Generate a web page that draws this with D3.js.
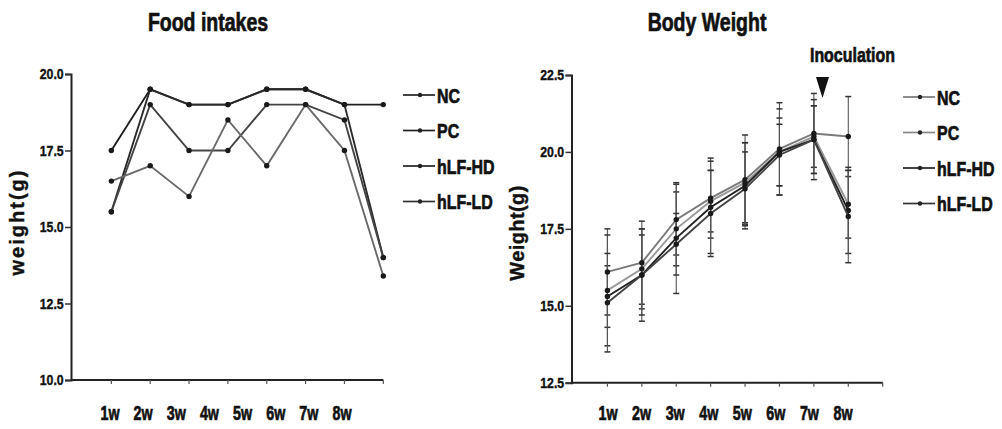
<!DOCTYPE html>
<html>
<head>
<meta charset="utf-8">
<script src="https://cdn.jsdelivr.net/npm/d3@7"></script>
<style>
  html, body { margin: 0; padding: 0; background: #fff; }
  svg { display: block; }
  text { font-family: "Liberation Sans", Arial, sans-serif; font-weight: bold; fill: #111; }
  .heavy { stroke: #111; stroke-width: 0.7px; }
</style>
</head>
<body>
<svg id="chart" width="1002" height="429"></svg>
<script>
// ---- data ----
const weeks = ["1w", "2w", "3w", "4w", "5w", "6w", "7w", "8w"];
const groups = ["NC", "PC", "hLF-HD", "hLF-LD"];

// Food intakes (g)
const foodNC = [17.5, 19.5, 19.0, 19.0, 19.5, 19.5, 19.0, 19.0];
const foodPC = [15.5, 19.5, 19.0, 19.0, 19.5, 19.5, 19.0, 14.0];
const foodHD = [15.5, 19.0, 17.5, 17.5, 19.0, 19.0, 18.5, 14.0];
const foodLD = [16.5, 17.0, 16.0, 18.5, 17.0, 19.0, 17.5, 13.4];

// Body weight (g), mean and SD
const bwNC = [16.1, 16.4, 17.8, 18.5, 19.1, 20.1, 20.6, 20.5];
const bwPC = [15.5, 16.2, 17.5, 18.4, 19.0, 20.0, 20.5, 18.3];
const bwHD = [15.3, 16.0, 17.2, 18.2, 18.9, 20.0, 20.4, 18.1];
const bwLD = [15.1, 16.0, 17.0, 18.0, 18.8, 19.9, 20.4, 17.9];
const sdNC = [1.4, 1.35, 1.15, 1.3, 1.45, 1.5, 1.3, 1.3];
const sdPC = [1.8, 1.3, 1.2, 1.0, 1.3, 1.4, 1.0, 1.1];
const sdHD = [1.0, 1.5, 1.8, 1.5, 1.4, 1.1, 1.3, 1.4];
const sdLD = [1.6, 1.3, 1.0, 1.4, 1.2, 1.0, 1.1, 1.5];

const foodTicks = [10.0, 12.5, 15.0, 17.5, 20.0];
const bwTicks = [12.5, 15.0, 17.5, 20.0, 22.5];
const inoculationWeek = 7.25;

const foodColors = ["#1e1e1e", "#2a2a2a", "#444", "#6a6a6a"];
const bwColors = ["#7a7a7a", "#999", "#222", "#444"];

const svg = d3.select("#chart");

// condensed heavy label anchored at (x, y)
function label(parent, x, y, str, size, anchor, squeeze) {
  return parent.append("g")
    .attr("transform", `translate(${x},${y}) scale(${squeeze},1)`)
    .append("text")
    .attr("class", "heavy")
    .attr("text-anchor", anchor || "start")
    .attr("font-size", size)
    .text(str);
}

function drawPanel(opt) {
  const g = svg.append("g");
  const x = d3.scaleLinear().domain([0, opt.xMax]).range(opt.xRange);
  const y = d3.scaleLinear().domain(opt.yDomain).range(opt.yRange);
  const labelX = d3.scalePoint().domain(weeks).range(opt.labelRange);
  const axisX = x(0) - 1.5;

  // y axis
  g.append("g")
    .attr("transform", `translate(${axisX},0)`)
    .call(d3.axisLeft(y).tickValues(opt.yTicks).tickFormat(d3.format(".1f")).tickSize(6).tickPadding(3))
    .call(a => a.select(".domain").attr("stroke", "#222").attr("stroke-width", 2))
    .call(a => a.selectAll(".tick line").attr("stroke", "#333").attr("stroke-width", 1.5))
    .call(a => a.selectAll(".tick text")
      .attr("class", "heavy")
      .attr("font-size", 15).attr("fill", "#111")
      .attr("transform", "scale(0.82,1)")
      .style("font-family", "'Liberation Sans',Arial,sans-serif").style("font-weight", "bold")
      .style("stroke-width", "0.4px"));

  // x axis line with ticks at week positions
  const y0 = y(opt.yDomain[0]);
  g.append("line").attr("x1", axisX).attr("x2", x(opt.xMax)).attr("y1", y0).attr("y2", y0)
    .attr("stroke", "#222").attr("stroke-width", 2);
  g.selectAll(".xt").data(opt.xTickIdx).join("line")
    .attr("x1", d => x(d)).attr("x2", d => x(d))
    .attr("y1", y0).attr("y2", y0 + 4)
    .attr("stroke", "#555").attr("stroke-width", 1.2);
  weeks.forEach(w => label(g, labelX(w), 420, w, 21, "middle", 0.68));

  // y title
  g.append("text")
    .attr("class", "heavy")
    .style("stroke-width", "0.4px")
    .attr("transform", `translate(${opt.yTitleX},${opt.yTitleY}) rotate(-90)`)
    .attr("text-anchor", "middle").attr("font-size", 20)
    .attr("letter-spacing", opt.yTitleSpacing)
    .text(opt.yTitle);

  // title
  label(g, opt.titleX, 31, opt.title, 25, "middle", 0.78);

  // error bars
  if (opt.sd) {
    opt.series.forEach((vals, si) => {
      const sd = opt.sd[si];
      vals.forEach((v, i) => {
        const cx = x(i + 1);
        const lo = y(v - sd[i]), hi = y(v + sd[i]);
        g.append("line").attr("x1", cx).attr("x2", cx).attr("y1", hi).attr("y2", lo)
          .attr("stroke", "#555").attr("stroke-width", 1.1);
        [lo, hi].forEach(yy => g.append("line")
          .attr("x1", cx - 3).attr("x2", cx + 3).attr("y1", yy).attr("y2", yy)
          .attr("stroke", "#333").attr("stroke-width", 1.5));
      });
    });
  }

  // lines and markers
  const line = d3.line().x((d, i) => x(i + 1)).y(d => y(d));
  opt.series.forEach((vals, si) => {
    g.append("path").datum(vals).attr("d", line)
      .attr("fill", "none").attr("stroke", opt.colors[si]).attr("stroke-width", 1.9);
    g.selectAll(null).data(vals).join("circle")
      .attr("cx", (d, i) => x(i + 1)).attr("cy", d => y(d)).attr("r", 2.7)
      .attr("fill", "#1a1a1a");
  });

  // legend
  const lg = g.append("g").attr("transform", `translate(${opt.legendX},${opt.legendY})`);
  groups.forEach((name, i) => {
    const row = lg.append("g").attr("transform", `translate(0,${i * 35.5})`);
    row.append("line").attr("x1", 0).attr("x2", 32).attr("y1", 0).attr("y2", 0)
      .attr("stroke", opt.legendColors[i]).attr("stroke-width", 1.7);
    row.append("circle").attr("cx", 17).attr("cy", 0).attr("r", 2.2).attr("fill", "#222");
    label(row, 34, 7.5, name, 21, "start", 0.76);
  });
  return { x, y, g };
}

drawPanel({
  title: "Food intakes", titleX: 208,
  yTitle: "weight(g)", yTitleX: 24, yTitleY: 222, yTitleSpacing: 2,
  xMax: 8, xRange: [72.5, 383.3], xTickIdx: [1, 2, 3, 4, 5, 6, 7, 8],
  yDomain: [10, 20], yRange: [380, 74], yTicks: foodTicks,
  labelRange: [110, 342],
  series: [foodNC, foodPC, foodHD, foodLD], colors: foodColors,
  legendColors: ["#222", "#222", "#222", "#333"],
  legendX: 403, legendY: 95
});

const bw = drawPanel({
  title: "Body Weight", titleX: 707,
  yTitle: "Weight(g)", yTitleX: 524, yTitleY: 233, yTitleSpacing: 0.4,
  xMax: 9, xRange: [573, 882.7], xTickIdx: [1, 2, 3, 4, 5, 6, 7, 8, 9],
  yDomain: [12.5, 22.5], yRange: [382.7, 75], yTicks: bwTicks,
  labelRange: [608, 843],
  series: [bwNC, bwPC, bwHD, bwLD], sd: [sdNC, sdPC, sdHD, sdLD], colors: bwColors,
  legendColors: ["#777", "#888", "#222", "#333"],
  legendX: 903, legendY: 97
});

// inoculation marker
const ix = bw.x(inoculationWeek);
label(bw.g, ix + 30, 62, "Inoculation", 21, "middle", 0.76);
bw.g.append("path")
  .attr("d", `M${ix - 6.5},77 L${ix + 6.5},77 L${ix},98 Z`)
  .attr("fill", "#111");
</script>
</body>
</html>
